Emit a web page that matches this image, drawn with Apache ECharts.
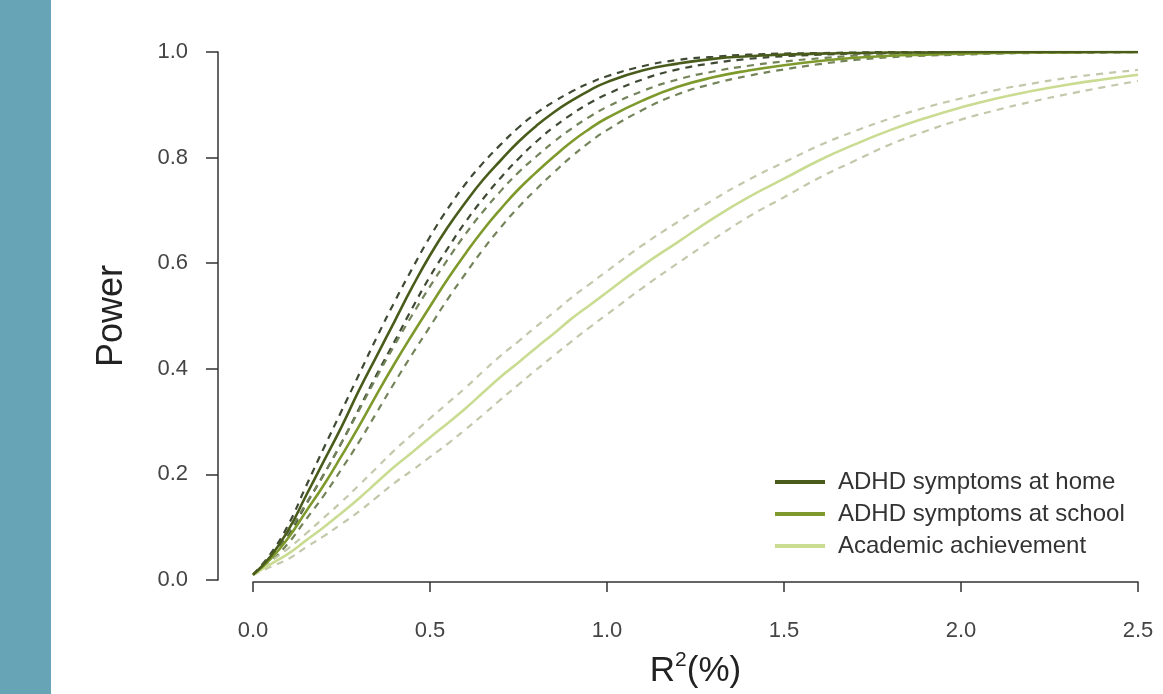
<!DOCTYPE html>
<html>
<head>
<meta charset="utf-8">
<script src="https://cdn.jsdelivr.net/npm/echarts@6/dist/echarts.min.js"></script>
<style>
html,body{margin:0;padding:0;background:#fff;}
#chart{width:1163px;height:694px;}
</style>
</head>
<body>
<div id="chart"></div>
<script>
// R^2 (%) values shared by all curves
const r2 = [0,0.05,0.1,0.15,0.2,0.25,0.3,0.35,0.4,0.45,0.5,0.55,0.6,0.65,0.7,0.75,0.8,0.85,0.9,0.95,1.0,1.1,1.2,1.3,1.4,1.5,1.6,1.7,1.8,1.9,2.0,2.1,2.2,2.3,2.4,2.5];

const homePower = [0.01,0.045,0.095,0.16,0.225,0.29,0.36,0.425,0.49,0.555,0.615,0.668,0.715,0.758,0.795,0.83,0.86,0.886,0.908,0.927,0.943,0.965,0.978,0.987,0.992,0.995,0.997,0.998,0.999,0.999,1,1,1,1,1,1];
const homeUpper = [0.01,0.05,0.105,0.178,0.25,0.32,0.39,0.46,0.527,0.59,0.65,0.703,0.75,0.79,0.825,0.857,0.884,0.906,0.925,0.941,0.954,0.973,0.985,0.991,0.995,0.997,0.998,0.999,1,1,1,1,1,1,1,1];
const homeLower = [0.01,0.04,0.085,0.143,0.2,0.26,0.325,0.39,0.452,0.515,0.575,0.628,0.678,0.722,0.762,0.798,0.83,0.858,0.882,0.903,0.92,0.948,0.967,0.979,0.987,0.992,0.995,0.997,0.998,0.999,1,1,1,1,1,1];

const schoolPower = [0.01,0.04,0.08,0.13,0.18,0.235,0.292,0.352,0.41,0.465,0.518,0.57,0.618,0.663,0.703,0.74,0.772,0.802,0.83,0.854,0.875,0.908,0.934,0.952,0.965,0.975,0.983,0.989,0.993,0.995,0.997,0.998,0.999,0.999,1,1];
const schoolUpper = [0.01,0.045,0.09,0.145,0.2,0.26,0.322,0.385,0.445,0.502,0.556,0.607,0.655,0.698,0.737,0.772,0.802,0.83,0.855,0.877,0.896,0.926,0.948,0.963,0.974,0.982,0.988,0.993,0.996,0.997,0.998,0.999,1,1,1,1];
const schoolLower = [0.01,0.035,0.07,0.115,0.16,0.21,0.262,0.318,0.374,0.428,0.48,0.532,0.58,0.626,0.668,0.706,0.74,0.772,0.802,0.829,0.852,0.89,0.92,0.94,0.955,0.967,0.977,0.985,0.99,0.993,0.995,0.997,0.998,0.999,0.999,1];

const academicPower = [0.01,0.03,0.05,0.075,0.1,0.127,0.155,0.185,0.215,0.242,0.27,0.297,0.325,0.355,0.385,0.412,0.44,0.467,0.495,0.52,0.545,0.595,0.64,0.685,0.725,0.76,0.795,0.825,0.852,0.875,0.895,0.912,0.926,0.938,0.948,0.957];
const academicUpper = [0.01,0.035,0.06,0.088,0.118,0.148,0.18,0.213,0.246,0.276,0.306,0.335,0.364,0.395,0.425,0.452,0.48,0.507,0.535,0.56,0.585,0.634,0.678,0.72,0.758,0.791,0.823,0.85,0.874,0.895,0.912,0.928,0.94,0.951,0.959,0.966];
const academicLower = [0.01,0.025,0.04,0.062,0.083,0.106,0.13,0.157,0.184,0.208,0.233,0.258,0.285,0.313,0.342,0.37,0.398,0.425,0.452,0.478,0.503,0.553,0.6,0.645,0.688,0.725,0.762,0.794,0.825,0.85,0.872,0.89,0.906,0.92,0.933,0.945];

const seriesNames = ['ADHD symptoms at home','ADHD symptoms at school','Academic achievement'];
const xTicks = [0,0.5,1.0,1.5,2.0,2.5];
const yTicks = [0,0.2,0.4,0.6,0.8,1.0];

const solidColors = ['#4a5c1c','#7f9a2c','#c9dc92'];
const dashColors = ['#3f4a35','#74845a','#c2c9ab'];

function pts(ys){ return r2.map((x,i)=>[x,ys[i]]); }

function solid(name, ys, color){
  return {name:name,type:'line',data:pts(ys),showSymbol:false,smooth:true,silent:true,
    lineStyle:{color:color,width:2.6},itemStyle:{color:color},z:3};
}
function dashed(name, ys, color){
  return {name:name,type:'line',data:pts(ys),showSymbol:false,smooth:true,silent:true,
    lineStyle:{color:color,width:2.2,type:[7,6]},itemStyle:{color:color},z:2};
}

const chart = echarts.init(document.getElementById('chart'));
const font = 'Liberation Sans, Arial, sans-serif';
chart.setOption({
  animation:false,
  backgroundColor:'#ffffff',
  graphic:[{type:'rect',shape:{x:0,y:0,width:51,height:694},style:{fill:'#67a4b5'},silent:true}],
  grid:{left:253,right:25,top:52,bottom:114},
  legend:{
    data:seriesNames.map(n=>({name:n,icon:'rect'})),
    orient:'vertical',left:770,top:464,itemWidth:50,itemHeight:4,itemGap:6,
    textStyle:{fontFamily:font,fontSize:24,color:'#333',padding:[0,0,0,8],lineHeight:26},
    selectedMode:false
  },
  xAxis:{
    type:'value',min:0,max:2.5,interval:0.5,offset:2,
    axisLine:{show:true,onZero:false,lineStyle:{color:'#333',width:1.5}},
    axisTick:{show:true,length:10,inside:false,lineStyle:{color:'#333',width:1.5}},
    splitLine:{show:false},
    axisLabel:{margin:38,fontFamily:font,fontSize:22,color:'#444',
      formatter:v=>v.toFixed(1)},
    name:'{r|R}{s|2}{r|(%)}',nameLocation:'middle',nameGap:68,
    nameTextStyle:{rich:{r:{fontFamily:font,fontSize:35,color:'#222',verticalAlign:'bottom'},s:{fontFamily:font,fontSize:21,color:'#222',verticalAlign:'top',padding:[0,0,18,0]}}}
  },
  yAxis:{
    type:'value',min:0,max:1,interval:0.2,offset:35,
    axisLine:{show:true,onZero:false,lineStyle:{color:'#333',width:1.5}},
    axisTick:{show:true,length:12,lineStyle:{color:'#333',width:1.5}},
    splitLine:{show:false},
    axisLabel:{margin:30,fontFamily:font,fontSize:22,color:'#444',formatter:v=>v.toFixed(1)},
    name:'Power',nameLocation:'middle',nameGap:88,nameRotate:90,
    nameTextStyle:{fontFamily:font,fontSize:36,color:'#222'}
  },
  series:[
    dashed('home-upper',homeUpper,dashColors[0]),
    dashed('home-lower',homeLower,dashColors[0]),
    dashed('school-upper',schoolUpper,dashColors[1]),
    dashed('school-lower',schoolLower,dashColors[1]),
    dashed('academic-upper',academicUpper,dashColors[2]),
    dashed('academic-lower',academicLower,dashColors[2]),
    solid(seriesNames[2],academicPower,solidColors[2]),
    solid(seriesNames[1],schoolPower,solidColors[1]),
    solid(seriesNames[0],homePower,solidColors[0])
  ]
});
</script>
</body>
</html>
